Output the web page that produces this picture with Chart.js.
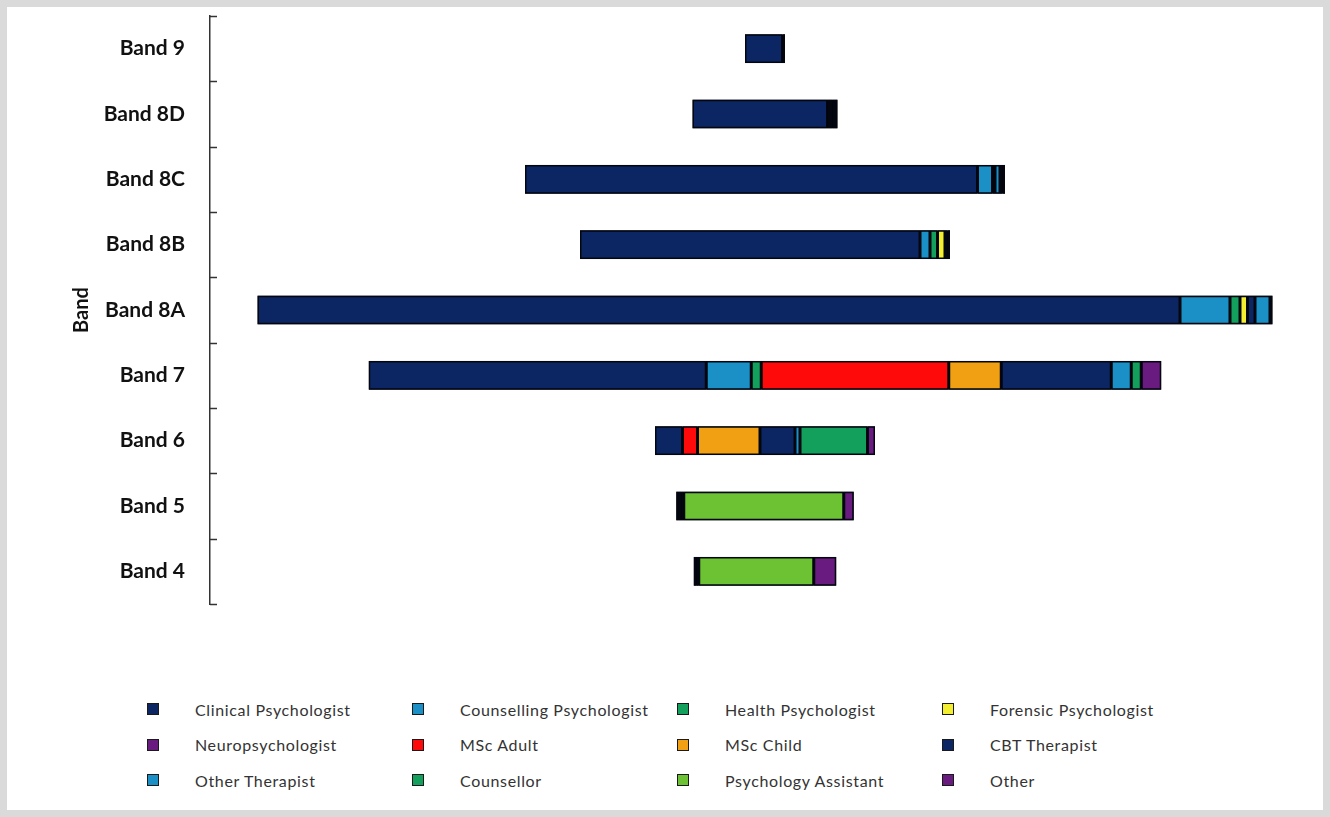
<!DOCTYPE html>
<html>
<head>
<meta charset="utf-8">
<title>Staff by band and profession</title>
<script src="https://cdn.jsdelivr.net/npm/chart.js@4.4.1/dist/chart.umd.min.js"></script>
<style>
  html, body { margin: 0; padding: 0; background: #fff; }
  #frame {
    position: absolute; left: 0; top: 0; width: 1330px; height: 817px;
    box-sizing: border-box; border: 7px solid #dadada; background: #fff;
  }
  #wrap { position: absolute; left: 0; top: 0; width: 1330px; height: 640px; }
  #legend {
    position: absolute; left: 147px; top: 699px;
    display: grid; grid-template-columns: repeat(4, 265px); grid-auto-rows: 35.5px;
    font-family: Lato, "Noto Sans", sans-serif; font-size: 16px; letter-spacing: 0.65px; color: #333;
  }
  .item { display: flex; align-items: center; height: 20px; white-space: nowrap; }
  .sw { width: 10px; height: 10px; border: 1px solid #1a1a1a; margin-right: 36px; flex: none; }
</style>
</head>
<body>
<div id="frame"></div>
<div id="wrap"><canvas id="chart"></canvas></div>
<div id="legend"></div>
<script>
// Bands, top to bottom
const bands = ['Band 9', 'Band 8D', 'Band 8C', 'Band 8B', 'Band 8A', 'Band 7', 'Band 6', 'Band 5', 'Band 4'];

// Headcount per profession in each band (same order as bands)
const clinicalPsychologist    = [15, 54, 181, 136, 369, 135, 11, 1, 0];
const counsellingPsychologist = [0, 1, 6, 4, 20, 18, 0, 0, 0];
const healthPsychologist      = [0, 0, 1, 3, 4, 4, 0, 0, 0];
const forensicPsychologist    = [0, 0, 0, 3, 3, 0, 0, 0, 0];
const neuropsychologist       = [0, 1, 0, 1, 0, 0, 0, 0, 0];
const mscAdult                = [0, 0, 0, 0, 0, 75, 6, 0, 0];
const mscChild                = [0, 0, 0, 0, 0, 21, 25, 0, 0];
const cbtTherapist            = [0, 0, 0, 0, 3, 44, 14, 1, 1];
const otherTherapist          = [0, 1, 2, 0, 6, 8, 2, 0, 0];
const counsellor              = [0, 0, 1, 0, 0, 4, 27, 1, 1];
const psychologyAssistant     = [0, 0, 0, 0, 0, 0, 0, 64, 46];
const other                   = [1, 1, 1, 1, 1, 8, 3, 4, 9];

const professions = [
  { label: 'Clinical Psychologist',    data: clinicalPsychologist,    color: '#0c2664' },
  { label: 'Counselling Psychologist', data: counsellingPsychologist, color: '#1a90c6' },
  { label: 'Health Psychologist',      data: healthPsychologist,      color: '#12a05c' },
  { label: 'Forensic Psychologist',    data: forensicPsychologist,    color: '#f4ee30' },
  { label: 'Neuropsychologist',        data: neuropsychologist,       color: '#6a1b80' },
  { label: 'MSc Adult',                data: mscAdult,                color: '#ff0a0a' },
  { label: 'MSc Child',                data: mscChild,                color: '#f0a012' },
  { label: 'CBT Therapist',            data: cbtTherapist,            color: '#0c2664' },
  { label: 'Other Therapist',          data: otherTherapist,          color: '#1a90c6' },
  { label: 'Counsellor',               data: counsellor,              color: '#12a05c' },
  { label: 'Psychology Assistant',     data: psychologyAssistant,     color: '#6cc232' },
  { label: 'Other',                    data: other,                   color: '#6a1b80' }
];

const edgeColor = '#03060f';

// Width of the value axis; each bar is centred by an invisible leading block
const axisMax = 444;
const totals = bands.map((_, i) => professions.reduce((s, p) => s + p.data[i], 0));
const centring = totals.map(t => (axisMax - t) / 2);

const datasets = [
  { label: '_offset', data: centring, backgroundColor: 'rgba(0,0,0,0)', borderWidth: 0, hoverBackgroundColor: 'rgba(0,0,0,0)' }
].concat(professions.map(p => ({
  label: p.label,
  data: p.data,
  backgroundColor: p.color,
  borderColor: edgeColor,
  borderWidth: 1.5,
  borderSkipped: false
})));

// Dark backing under each stacked bar so that seams between segments stay solid
const barBacking = {
  id: 'barBacking',
  beforeDatasetsDraw(chart) {
    const ctx = chart.ctx;
    ctx.save();
    ctx.fillStyle = edgeColor;
    bands.forEach((_, i) => {
      let left = Infinity, right = -Infinity, top = 0, h = 0;
      for (let d = 1; d < chart.data.datasets.length; d++) {
        if (!chart.data.datasets[d].data[i]) continue;
        const el = chart.getDatasetMeta(d).data[i];
        const p = el.getProps(['x', 'base', 'y', 'height'], true);
        left = Math.min(left, p.base, p.x);
        right = Math.max(right, p.base, p.x);
        top = p.y - p.height / 2;
        h = p.height;
      }
      if (right > left) ctx.fillRect(left, top, right - left, h);
    });
    ctx.restore();
  }
};

// Short inward tick marks between the bands on the category axis
const bandTicks = {
  id: 'bandTicks',
  afterDraw(chart) {
    const y = chart.scales.y;
    const ctx = chart.ctx;
    const x0 = chart.chartArea.left;
    ctx.save();
    ctx.strokeStyle = '#333';
    ctx.lineWidth = 1.5;
    for (let i = 0; i <= bands.length; i++) {
      const py = Math.round(y.getPixelForValue(i - 0.5)) + 0.5;
      ctx.beginPath();
      ctx.moveTo(x0, py);
      ctx.lineTo(x0 + 7, py);
      ctx.stroke();
    }
    ctx.restore();
  }
};

Chart.defaults.font.family = 'Lato, "Noto Sans", sans-serif';

const chart = new Chart(document.getElementById('chart'), {
  type: 'bar',
  data: { labels: bands, datasets },
  options: {
    indexAxis: 'y',
    responsive: true,
    maintainAspectRatio: false,
    animation: false,
    layout: { padding: { left: 66, right: 10, top: 16, bottom: 36 } },
    datasets: { bar: { categoryPercentage: 1, barPercentage: 0.44 } },
    plugins: {
      legend: { display: false },
      tooltip: { filter: item => item.datasetIndex !== 0 }
    },
    scales: {
      x: { stacked: true, min: 0, max: axisMax, display: false },
      y: {
        stacked: true,
        afterFit: s => { s.width = 144; },
        border: { display: true, color: '#333', width: 1.5 },
        grid: { display: true, drawOnChartArea: false, drawTicks: true, tickLength: 25, color: 'rgba(0,0,0,0)' },
        ticks: { padding: 0, color: '#111', font: { size: 21, weight: 'bold' } },
        title: { display: true, text: 'Band', color: '#111', padding: 4, font: { size: 20, weight: 'bold' } }
      }
    }
  },
  plugins: [barBacking, bandTicks]
});

// Legend laid out in a four-column grid
const legend = document.getElementById('legend');
chart.data.datasets.slice(1).forEach(ds => {
  const item = document.createElement('div');
  item.className = 'item';
  const sw = document.createElement('span');
  sw.className = 'sw';
  sw.style.background = ds.backgroundColor;
  const txt = document.createElement('span');
  txt.textContent = ds.label;
  item.appendChild(sw);
  item.appendChild(txt);
  legend.appendChild(item);
});
</script>
</body>
</html>
